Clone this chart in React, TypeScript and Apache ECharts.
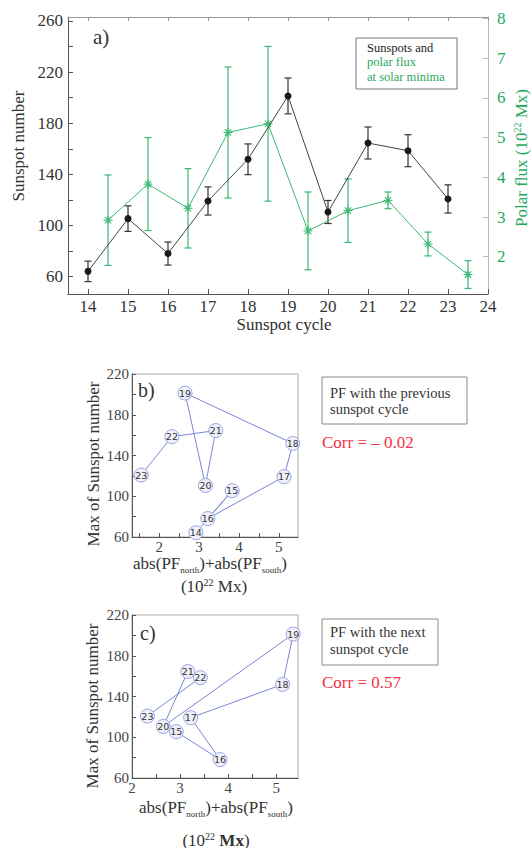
import React, { useEffect, useRef } from "react";
import * as echarts from "echarts";

// ---- data ----
const cycles = [14, 15, 16, 17, 18, 19, 20, 21, 22, 23];
const sunspotMax = [64.2, 105.4, 78.1, 119.2, 151.8, 201.3, 110.6, 164.5, 158.5, 120.8];
const sunspotErr = [8, 10, 9, 11, 12, 14, 9, 12.5, 12.5, 11];
const minimaPos = [14.5, 15.5, 16.5, 17.5, 18.5, 19.5, 20.5, 21.5, 22.5, 23.5];
const polarFlux = [2.92, 3.83, 3.22, 5.13, 5.35, 2.65, 3.16, 3.42, 2.32, 1.55];
const polarErr = [1.14, 1.17, 1.0, 1.65, 1.95, 0.98, 0.8, 0.21, 0.3, 0.35];

const cycleTicks = [14, 15, 16, 17, 18, 19, 20, 21, 22, 23, 24];
const ssnLabels = [60, 100, 140, 180, 220, 260];
const ssnTicks = [60, 80, 100, 120, 140, 160, 180, 200, 220, 240, 260];
const fluxLabels = [2, 3, 4, 5, 6, 7, 8];
const scatterSsnLabels = [60, 100, 140, 180, 220];
const scatterSsnTicks = [60, 80, 100, 120, 140, 160, 180, 200, 220];
const pfLabels = [2, 3, 4, 5];
const pfTicksB = [1.5, 2, 2.5, 3, 3.5, 4, 4.5, 5];
const pfTicksC = [2, 2.5, 3, 3.5, 4, 4.5, 5];

const SERIF = "'Liberation Serif', 'DejaVu Serif', serif";
const GREEN = "#1fa85a";
const GREEN_LINE = "#3ab873";
const RED = "#f0334a";

function errRender(color: string, star: boolean) {
  return (params: any, api: any) => {
    const x = api.value(0);
    const y = api.value(1);
    const e = api.value(2);
    const c = api.coord([x, y]);
    const hi = api.coord([x, y + e]);
    const lo = api.coord([x, y - e]);
    const cap = 3.5;
    const style = { stroke: color, lineWidth: 1.2 };
    const children: any[] = [
      { type: "line", shape: { x1: hi[0], y1: hi[1], x2: lo[0], y2: lo[1] }, style },
      { type: "line", shape: { x1: hi[0] - cap, y1: hi[1], x2: hi[0] + cap, y2: hi[1] }, style },
      { type: "line", shape: { x1: lo[0] - cap, y1: lo[1], x2: lo[0] + cap, y2: lo[1] }, style },
    ];
    if (star) {
      const r = 4.5;
      [0, 45, 90, 135].forEach((deg) => {
        const a = (deg * Math.PI) / 180;
        children.push({
          type: "line",
          shape: {
            x1: c[0] - r * Math.cos(a),
            y1: c[1] - r * Math.sin(a),
            x2: c[0] + r * Math.cos(a),
            y2: c[1] + r * Math.sin(a),
          },
          style: { stroke: color, lineWidth: 1.1 },
        });
      });
    }
    return { type: "group", children };
  };
}

function scatterAxisX(grid: number, min: number, max: number, ticks: number[]) {
  return {
    gridIndex: grid,
    type: "value",
    min,
    max,
    position: "bottom",
    axisLine: { lineStyle: { color: "#555", width: 1 } },
    axisTick: { inside: true, length: 4, customValues: ticks, lineStyle: { color: "#555" } },
    axisLabel: { customValues: pfLabels, fontFamily: SERIF, fontSize: 15, color: "#444", margin: 2 },
    splitLine: { show: false },
  };
}

function scatterAxisY(grid: number) {
  return {
    gridIndex: grid,
    type: "value",
    min: 60,
    max: 220,
    axisLine: { lineStyle: { color: "#555", width: 1 } },
    axisTick: { inside: true, length: 4, customValues: scatterSsnTicks, lineStyle: { color: "#555" } },
    axisLabel: { customValues: scatterSsnLabels, fontFamily: SERIF, fontSize: 15, color: "#444", margin: 3 },
    splitLine: { show: false },
  };
}

function scatterSeries(xi: number, yi: number, data: number[][]) {
  return {
    type: "line",
    xAxisIndex: xi,
    yAxisIndex: yi,
    data,
    symbol: "circle",
    symbolSize: 14,
    showSymbol: true,
    lineStyle: { color: "#6a78d0", width: 0.9 },
    itemStyle: { color: "#f0f0fb", borderColor: "#9aa2e6", borderWidth: 1 },
    label: {
      show: true,
      position: "inside",
      formatter: (p: any) => String(p.value[2]),
      fontFamily: "DejaVu Sans",
      fontSize: 9.5,
      color: "#333",
    },
    z: 3,
  };
}

function textEl(text: string, x: number, y: number, size: number, color = "#333", align = "left", extra: any = {}) {
  return {
    type: "text",
    x,
    y,
    ...extra,
    style: {
      text,
      fontFamily: SERIF,
      fontSize: size,
      fill: color,
      align,
      verticalAlign: "middle",
      ...(extra.style || {}),
    },
  };
}

const pfRich = {
  sub: { fontFamily: SERIF, fontSize: 9, fill: "#333", verticalAlign: "bottom", padding: [0, 0, -3, 0] },
  sup: { fontFamily: SERIF, fontSize: 10, fill: "#333", verticalAlign: "top" },
  b: { fontFamily: SERIF, fontSize: 17, fill: "#333", fontWeight: "bold" },
};

export default function App() {
  const ref = useRef<HTMLDivElement>(null);
  useEffect(() => {
    document.body.style.margin = "0";
    const chart = echarts.init(ref.current!, null, { renderer: "svg" });

    const bData = cycles.map((c, i) => [polarFlux[i], sunspotMax[i], c]);
    const cData = cycles.slice(1).map((c, i) => [polarFlux[i], sunspotMax[i + 1], c]);

    chart.setOption({
      animation: false,
      backgroundColor: "#ffffff",
      textStyle: { fontFamily: SERIF },
      grid: [
        { left: 68, top: 17, width: 420, height: 277, show: false },
        { left: 132, top: 374, width: 166, height: 163, show: true, borderColor: "#aaa", borderWidth: 1 },
        { left: 132, top: 615, width: 166, height: 163, show: true, borderColor: "#aaa", borderWidth: 1 },
      ],
      xAxis: [
        {
          gridIndex: 0,
          type: "value",
          min: 13.5,
          max: 24,
          position: "bottom",
          axisLine: { lineStyle: { color: "#555", width: 1 } },
          axisTick: { inside: true, length: 5, customValues: cycleTicks, lineStyle: { color: "#555" } },
          axisLabel: { customValues: cycleTicks, fontFamily: SERIF, fontSize: 17, color: "#333", margin: 4 },
          splitLine: { show: false },
        },
        {
          gridIndex: 0,
          type: "value",
          min: 13.5,
          max: 24,
          position: "top",
          axisLine: { lineStyle: { color: "#999", width: 1 } },
          axisTick: { inside: true, length: 4, customValues: cycleTicks, lineStyle: { color: "#999" } },
          axisLabel: { show: false },
          splitLine: { show: false },
        },
        scatterAxisX(1, 1.32, 5.48, pfTicksB),
        scatterAxisX(2, 2, 5.45, pfTicksC),
      ],
      yAxis: [
        {
          gridIndex: 0,
          type: "value",
          min: 46.5,
          max: 263,
          position: "left",
          axisLine: { lineStyle: { color: "#555", width: 1 } },
          axisTick: { inside: true, length: 5, customValues: ssnTicks, lineStyle: { color: "#555" } },
          axisLabel: { customValues: ssnLabels, fontFamily: SERIF, fontSize: 17, color: "#333", margin: 5 },
          splitLine: { show: false },
        },
        {
          gridIndex: 0,
          type: "value",
          min: 1.06,
          max: 8.04,
          position: "right",
          axisLine: { lineStyle: { color: "#a8bcc8", width: 1 } },
          axisTick: { inside: true, length: 5, customValues: fluxLabels, lineStyle: { color: "#a8bcc8" } },
          axisLabel: { customValues: fluxLabels, fontFamily: SERIF, fontSize: 17, color: GREEN, margin: 9 },
          splitLine: { show: false },
        },
        scatterAxisY(1),
        scatterAxisY(2),
      ],
      series: [
        {
          type: "custom",
          xAxisIndex: 0,
          yAxisIndex: 0,
          data: cycles.map((c, i) => [c, sunspotMax[i], sunspotErr[i]]),
          encode: { x: 0, y: 1 },
          renderItem: errRender("#333", false),
          z: 1,
        },
        {
          type: "line",
          xAxisIndex: 0,
          yAxisIndex: 0,
          data: cycles.map((c, i) => [c, sunspotMax[i]]),
          symbol: "circle",
          symbolSize: 7,
          lineStyle: { color: "#444", width: 1 },
          itemStyle: { color: "#1a1a1a" },
          z: 2,
        },
        {
          type: "custom",
          xAxisIndex: 0,
          yAxisIndex: 1,
          data: minimaPos.map((x, i) => [x, polarFlux[i], polarErr[i]]),
          encode: { x: 0, y: 1 },
          renderItem: errRender(GREEN_LINE, true),
          z: 1,
        },
        {
          type: "line",
          xAxisIndex: 0,
          yAxisIndex: 1,
          data: minimaPos.map((x, i) => [x, polarFlux[i]]),
          symbol: "none",
          lineStyle: { color: GREEN_LINE, width: 1 },
          z: 2,
        },
        scatterSeries(2, 2, bData),
        scatterSeries(3, 3, cData),
      ],
      graphic: [
        // panel a
        textEl("a)", 93, 37, 21),
        {
          type: "rect",
          shape: { x: 356, y: 38, width: 101, height: 51 },
          style: { fill: "#fff", stroke: "#777", lineWidth: 1 },
          z: 10,
        },
        textEl("Sunspots and", 367, 48, 12.5, "#222", "left", { z: 11 }),
        textEl("polar flux", 367, 62, 12.5, GREEN, "left", { z: 11 }),
        textEl("at solar minima", 367, 77, 12.5, GREEN, "left", { z: 11 }),
        textEl("Sunspot number", 18, 146, 17, "#333", "center", { rotation: Math.PI / 2 }),
        textEl("Sunspot cycle", 284, 324, 17, "#333", "center"),
        {
          type: "text",
          x: 521,
          y: 158,
          rotation: Math.PI / 2,
          style: {
            text: "Polar flux (10{sup|22} Mx)",
            fontFamily: SERIF,
            fontSize: 17,
            fill: GREEN,
            align: "center",
            verticalAlign: "middle",
            rich: { sup: { fontFamily: SERIF, fontSize: 10, fill: GREEN, verticalAlign: "top" } },
          },
        },
        // panel b
        textEl("b)", 138, 390, 20),
        textEl("Max of Sunspot number", 93, 464, 17, "#333", "center", { rotation: Math.PI / 2 }),
        {
          type: "text",
          x: 210,
          y: 563,
          style: {
            text: "abs(PF{sub|north})+abs(PF{sub|south})",
            fontFamily: SERIF,
            fontSize: 17,
            fill: "#333",
            align: "center",
            verticalAlign: "middle",
            rich: pfRich,
          },
        },
        {
          type: "text",
          x: 214,
          y: 586,
          style: {
            text: "(10{sup|22} Mx)",
            fontFamily: SERIF,
            fontSize: 17,
            fill: "#333",
            align: "center",
            verticalAlign: "middle",
            rich: pfRich,
          },
        },
        {
          type: "rect",
          shape: { x: 322, y: 377, width: 145, height: 47 },
          style: { fill: "#fff", stroke: "#888", lineWidth: 1 },
        },
        textEl("PF with the previous", 330, 393, 14.5, "#333"),
        textEl("sunspot cycle", 330, 409, 14.5, "#333"),
        textEl("Corr = \u2013 0.02", 322, 442, 17, RED),
        // panel c
        textEl("c)", 140, 633, 20),
        textEl("Max of Sunspot number", 92, 706, 17, "#333", "center", { rotation: Math.PI / 2 }),
        {
          type: "text",
          x: 216,
          y: 807,
          style: {
            text: "abs(PF{sub|north})+abs(PF{sub|south})",
            fontFamily: SERIF,
            fontSize: 17,
            fill: "#333",
            align: "center",
            verticalAlign: "middle",
            rich: pfRich,
          },
        },
        {
          type: "text",
          x: 216,
          y: 840,
          style: {
            text: "(10{sup|22} {b|Mx})",
            fontFamily: SERIF,
            fontSize: 17,
            fill: "#333",
            align: "center",
            verticalAlign: "middle",
            rich: pfRich,
          },
        },
        {
          type: "rect",
          shape: { x: 322, y: 619, width: 116, height: 46 },
          style: { fill: "#fff", stroke: "#888", lineWidth: 1 },
        },
        textEl("PF with the next", 330, 632, 14.5, "#333"),
        textEl("sunspot cycle", 330, 649, 14.5, "#333"),
        textEl("Corr = 0.57", 322, 682, 17, RED),
      ],
    });
    return () => chart.dispose();
  }, []);
  return (
    <div
      ref={ref}
      style={{ position: "absolute", left: 0, top: 0, width: 531, height: 848 }}
    />
  );
}
